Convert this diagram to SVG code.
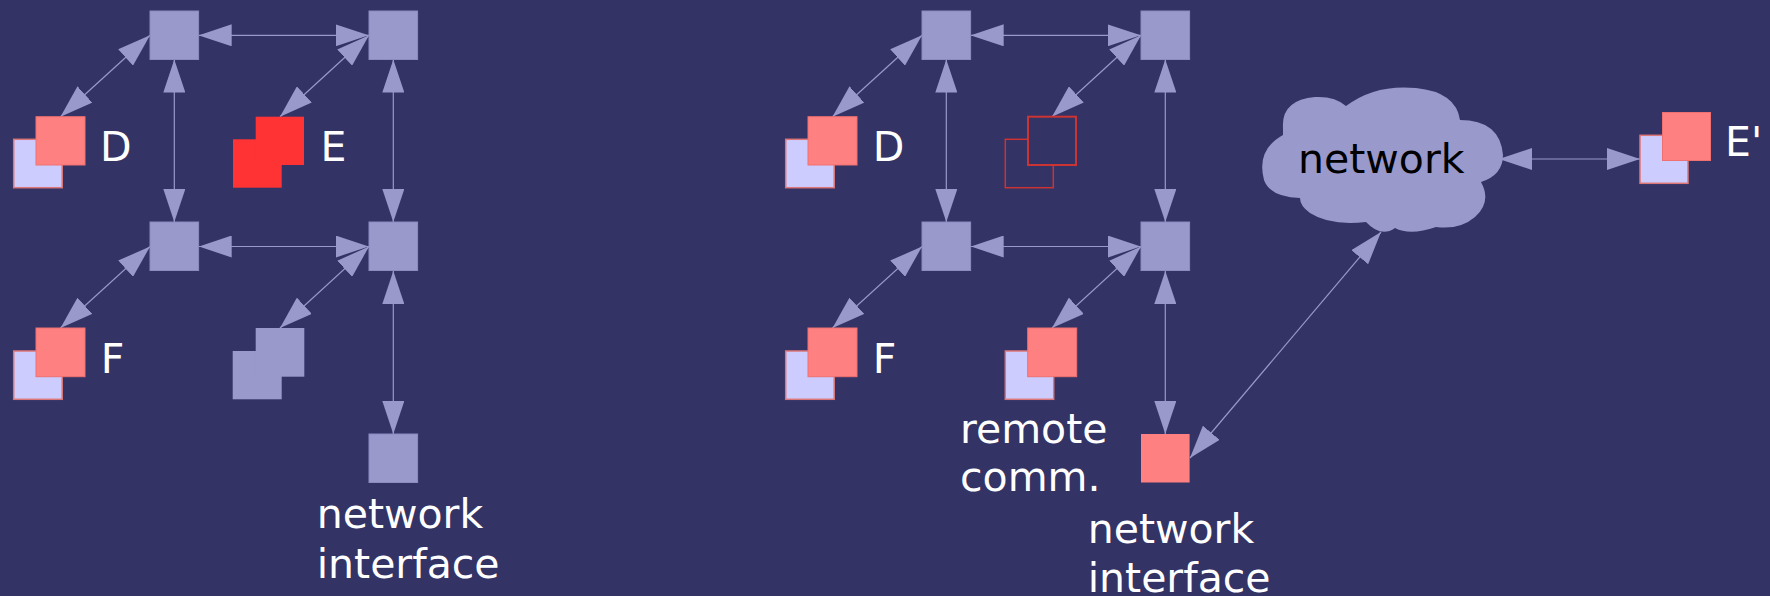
<svg xmlns="http://www.w3.org/2000/svg" width="1770" height="596" viewBox="0 0 1770 596">
  <style>
    .box { fill: #9999cc; stroke: #8c8cc0; stroke-width: 1; }
    .back { fill: #ccccff; stroke: #dd7777; stroke-width: 1.5; }
    .front { fill: #ff8080; stroke: #ee7070; stroke-width: 1; }
    .hot { fill: #ff3333; }
    .lost { fill: #333366; stroke: #cc3333; stroke-width: 1.5; }
    .lost2 { fill: #333366; stroke: #cc3333; stroke-width: 2; }
    .plain { fill: #9999cc; }
    .lbl { font-family: "DejaVu Sans", "Liberation Sans", sans-serif; font-size: 41px; fill: #ffffff; }
    .cloudtxt { font-family: "DejaVu Sans", "Liberation Sans", sans-serif; font-size: 41px; fill: #000000; }
    .link { stroke: #9999cc; stroke-width: 1.2; fill: none; marker-start: url(#head); marker-end: url(#head); }
  </style>
  <defs>
    <marker id="head" viewBox="0 0 33 22" refX="33" refY="11" markerWidth="33" markerHeight="22" markerUnits="userSpaceOnUse" orient="auto-start-reverse">
      <path d="M0,0 L33,11 L0,22 z" fill="#9999cc"/>
    </marker>
  </defs>

  <rect width="1770" height="596" fill="#333366"/>

  <!-- connectors -->
  <g id="connectors">
    <!-- left cluster -->
    <line class="link" x1="198.7" y1="35.3" x2="368.7" y2="35.3"/>
    <line class="link" x1="174.3" y1="59.5" x2="174.3" y2="222"/>
    <line class="link" x1="393.3" y1="59.5" x2="393.3" y2="222"/>
    <line class="link" x1="198.7" y1="246.5" x2="368.7" y2="246.5"/>
    <line class="link" x1="393.3" y1="271" x2="393.3" y2="434"/>
    <line class="link" x1="60.5" y1="116.7" x2="150" y2="35.3"/>
    <line class="link" x1="280" y1="116.7" x2="369" y2="35.3"/>
    <line class="link" x1="60.5" y1="328" x2="150" y2="246.5"/>
    <line class="link" x1="280" y1="328" x2="369" y2="246.5"/>
    <!-- right cluster -->
    <line class="link" x1="970.7" y1="35.3" x2="1140.7" y2="35.3"/>
    <line class="link" x1="946.3" y1="59.5" x2="946.3" y2="222"/>
    <line class="link" x1="1165.3" y1="59.5" x2="1165.3" y2="222"/>
    <line class="link" x1="970.7" y1="246.5" x2="1140.7" y2="246.5"/>
    <line class="link" x1="1165.3" y1="271" x2="1165.3" y2="434"/>
    <line class="link" x1="832.5" y1="116.7" x2="922" y2="35.3"/>
    <line class="link" x1="1052" y1="116.7" x2="1141" y2="35.3"/>
    <line class="link" x1="832.5" y1="328" x2="922" y2="246.5"/>
    <line class="link" x1="1052" y1="328" x2="1141" y2="246.5"/>
    <line class="link" x1="1190" y1="458" x2="1381" y2="232"/>
    <line class="link" x1="1499" y1="159" x2="1640" y2="159"/>
  </g>

  <!-- left cluster nodes -->
  <g id="l-a"><rect class="box" x="150" y="11" width="48.6" height="48.5"/></g>
  <g id="l-b"><rect class="box" x="369" y="11" width="48.6" height="48.5"/></g>
  <g id="l-c"><rect class="box" x="150" y="222" width="48.6" height="48.5"/></g>
  <g id="l-d"><rect class="box" x="369" y="222" width="48.6" height="48.5"/></g>
  <g id="l-nic">
    <rect class="box" x="369" y="434" width="48.6" height="48.5"/>
    <text class="lbl" x="316.7" y="528.3">network</text>
    <text class="lbl" x="316.7" y="578.3">interface</text>
  </g>
  <g id="l-D">
    <rect class="back" x="13.7" y="139.3" width="48.5" height="48.4"/>
    <rect class="front" x="36" y="116.7" width="49" height="48.3"/>
    <text class="lbl" x="100" y="160.7">D</text>
  </g>
  <g id="l-E">
    <rect class="hot" x="233" y="139.3" width="48.7" height="48.4"/>
    <rect class="hot" x="255.7" y="116.7" width="48.3" height="48.3"/>
    <text class="lbl" x="320.5" y="160.5">E</text>
  </g>
  <g id="l-F">
    <rect class="back" x="13.7" y="351" width="48.5" height="48.3"/>
    <rect class="front" x="36" y="328" width="49" height="48.7"/>
    <text class="lbl" x="100.7" y="372.7">F</text>
  </g>
  <g id="l-G">
    <rect class="plain" x="232.7" y="351" width="49" height="48.3"/>
    <rect class="plain" x="255.7" y="328" width="48.6" height="48.7"/>
  </g>

  <!-- right cluster nodes -->
  <g id="r-a"><rect class="box" x="922" y="11" width="48.6" height="48.5"/></g>
  <g id="r-b"><rect class="box" x="1141" y="11" width="48.6" height="48.5"/></g>
  <g id="r-c"><rect class="box" x="922" y="222" width="48.6" height="48.5"/></g>
  <g id="r-d"><rect class="box" x="1141" y="222" width="48.6" height="48.5"/></g>
  <g id="r-nic">
    <rect class="front" x="1141" y="434" width="48.6" height="48.5" style="stroke:none"/>
    <text class="lbl" x="1087.7" y="543.3">network</text>
    <text class="lbl" x="1087.7" y="591.7">interface</text>
  </g>
  <g id="r-D">
    <rect class="back" x="785.7" y="139.3" width="48.5" height="48.4"/>
    <rect class="front" x="808" y="116.7" width="49" height="48.3"/>
    <text class="lbl" x="872.7" y="160.7">D</text>
  </g>
  <g id="r-E">
    <rect class="lost" x="1005.3" y="139.3" width="48" height="48.4"/>
    <rect class="lost2" x="1028" y="116.7" width="48" height="48.3"/>
  </g>
  <g id="r-F">
    <rect class="back" x="785.7" y="351" width="48.5" height="48.3"/>
    <rect class="front" x="808" y="328" width="49" height="48.7"/>
    <text class="lbl" x="872.7" y="372.7">F</text>
  </g>
  <g id="r-remote">
    <rect class="back" x="1005.3" y="351" width="48.4" height="48.3"/>
    <rect class="front" x="1027.7" y="328" width="49" height="48.7"/>
    <text class="lbl" x="960" y="442.7">remote</text>
    <text class="lbl" x="960" y="490.7">comm.</text>
  </g>

  <!-- wide-area network -->
  <g id="cloud">
    <path fill="#9999cc" d="M1283,128 Q1281,100 1315,97 Q1335,96 1346,106 Q1375,84 1416,88 Q1456,92 1460,120 Q1500,120 1503,155 Q1503,175 1481,182 Q1492,202 1475,217 Q1460,230 1436,227 Q1410,236 1395,228 Q1381,238 1366,222 Q1330,226 1310,213 Q1300,206 1300,198 Q1270,197 1264,180 Q1256,150 1283,135 Z"/>
    <text class="cloudtxt" x="1298" y="173.3">network</text>
  </g>
  <g id="r-E2">
    <rect class="back" x="1640" y="135.3" width="48" height="48"/>
    <rect class="front" x="1662.5" y="112.5" width="48" height="48"/>
    <text class="lbl" x="1725" y="156">E'</text>
  </g>
</svg>
